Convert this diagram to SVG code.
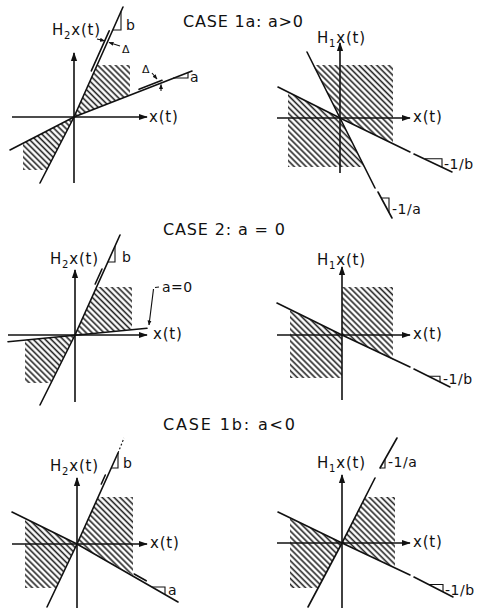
<svg xmlns="http://www.w3.org/2000/svg" width="482" height="608" viewBox="0 0 482 608">
<style>
.ln{stroke:#111;stroke-width:1.6;fill:none;stroke-linecap:round}
.th{stroke:#111;stroke-width:1.1;fill:none}
.ax{stroke:#111;stroke-width:1.6;fill:none;marker-end:url(#arr)}
.ht{fill:url(#hatch);stroke:none}
text{font-family:"DejaVu Sans","Liberation Sans",sans-serif;fill:#111}
.lb{font-size:15px;letter-spacing:0.8px}
.sm{font-size:14px;letter-spacing:0.5px}
.ti{font-size:16px}
.sub{font-size:10px}
</style>
<defs>
<pattern id="hatch" width="4.2" height="4.2" patternUnits="userSpaceOnUse" patternTransform="rotate(-45)">
<line x1="2" y1="-1" x2="2" y2="6" stroke="#222" stroke-width="1.6"/>
</pattern>
<marker id="arr" viewBox="0 0 10 10" refX="9" refY="5" markerWidth="9" markerHeight="9" markerUnits="userSpaceOnUse" orient="auto">
<path d="M0,1.5 L10,5 L0,8.5 z" fill="#111"/>
</marker>
<marker id="sarr" viewBox="0 0 10 10" refX="9" refY="5" markerWidth="5" markerHeight="5" markerUnits="userSpaceOnUse" orient="auto">
<path d="M0,1 L10,5 L0,9 z" fill="#111"/>
</marker>
</defs>

<g id="titles">
<text class="ti" x="183" y="27" textLength="120" lengthAdjust="spacing">CASE 1a: a&gt;0</text>
<text class="ti" x="163" y="235" textLength="122" lengthAdjust="spacing">CASE 2: a = 0</text>
<text class="ti" x="163" y="430" textLength="132" lengthAdjust="spacing">CASE 1b: a&lt;0</text>
</g>

<!-- Panel 1: CASE 1a, H2 -->
<g id="p1">
<polygon class="ht" points="97,65 130,65 130,95 74,117"/>
<polygon class="ht" points="23,143 74,117 47,170 23,170"/>
<line class="ax" x1="12" y1="117" x2="147" y2="117"/>
<line class="ax" x1="74" y1="183" x2="74" y2="53"/>
<polyline class="ln" points="40,183 74,117 123,7"/>
<polyline class="ln" points="10,150 74,117 192,71"/>
<line class="ln" x1="91.3" y1="70.8" x2="109.2" y2="30.8"/>
<line class="ln" x1="139" y1="89.3" x2="162" y2="80.3"/>
<polyline class="th" points="112.8,30 121,30 121,11.5"/>
<polyline class="th" points="173,78 188,78 188,72.1"/>
<line class="th" x1="97" y1="39" x2="104.5" y2="40.8" marker-end="url(#sarr)"/>
<line class="th" x1="120" y1="46" x2="109" y2="42.5" marker-end="url(#sarr)"/>
<line class="th" x1="152" y1="73" x2="157" y2="79" marker-end="url(#sarr)"/>
<line class="th" x1="161" y1="91" x2="161" y2="84.5" marker-end="url(#sarr)"/>
<text class="lb" x="52" y="35">H<tspan class="sub" dy="4">2</tspan><tspan dy="-4">x(t)</tspan></text>
<text class="lb" x="149" y="122">x(t)</text>
<text class="sm" x="126" y="30">b</text>
<text class="sm" x="190" y="82">a</text>
<text style="font-size:11px" x="122" y="53">Δ</text>
<text style="font-size:11px" x="142" y="73">Δ</text>
</g>

<!-- Panel 2: CASE 1a, H1 -->
<g id="p2">
<polygon class="ht" points="313,65 393,65 393,143.8 340,118"/>
<polygon class="ht" points="288,92 340,118 364.5,167 288,167"/>
<line class="ax" x1="277" y1="118" x2="410" y2="118"/>
<line class="ax" x1="340" y1="173" x2="340" y2="43"/>
<polyline class="ln" points="307,52 340,118 375,188"/>
<line class="ln" x1="378" y1="192" x2="392" y2="218"/>
<polyline class="ln" points="278,87 340,118 410,152"/>
<line class="ln" x1="414" y1="154" x2="452" y2="172"/>
<polyline class="th" points="425,158.8 442,158.8 442,167"/>
<polyline class="th" points="381.2,198 389,198 389,212.4"/>
<text class="lb" x="317" y="43">H<tspan class="sub" dy="4">1</tspan><tspan dy="-4">x(t)</tspan></text>
<text class="lb" x="413" y="122">x(t)</text>
<text class="sm" x="444" y="169">-1/b</text>
<text class="sm" x="392" y="214">-1/a</text>
</g>

<!-- Panel 3: CASE 2, H2 -->
<g id="p3">
<polygon class="ht" points="96.6,287 132,287 132,329.5 75,335"/>
<polygon class="ht" points="25,339.8 75,335 51,383 25,383"/>
<line class="ax" x1="8" y1="335" x2="147" y2="335"/>
<line class="ax" x1="75" y1="402" x2="75" y2="270"/>
<polyline class="ln" points="40,405 75,335 120,235"/>
<line class="ln" x1="8" y1="341.7" x2="147" y2="328.3"/>
<line class="ln" x1="95.2" y1="284" x2="102" y2="269"/>
<polyline class="th" points="107.9,262 115,262 115,246"/>
<line class="th" x1="155" y1="287.5" x2="159" y2="287"/>
<line class="th" x1="153.5" y1="289" x2="149" y2="325" marker-end="url(#sarr)"/>
<text class="lb" x="50" y="264">H<tspan class="sub" dy="4">2</tspan><tspan dy="-4">x(t)</tspan></text>
<text class="lb" x="153" y="339">x(t)</text>
<text class="sm" x="122" y="262">b</text>
<text class="sm" x="162" y="292">a=0</text>
</g>

<!-- Panel 4: CASE 2, H1 -->
<g id="p4">
<polygon class="ht" points="342,287 393,287 393,359.5 342,335"/>
<polygon class="ht" points="290,310 342,335 342,378 290,378"/>
<line class="ax" x1="277" y1="335" x2="410" y2="335"/>
<line class="ax" x1="342" y1="400" x2="342" y2="267"/>
<polyline class="ln" points="277,303 342,335 410,367"/>
<line class="ln" x1="414" y1="369" x2="450" y2="387"/>
<polyline class="th" points="428,376.3 440,376.3 440,382.2"/>
<text class="lb" x="317" y="265">H<tspan class="sub" dy="4">1</tspan><tspan dy="-4">x(t)</tspan></text>
<text class="lb" x="413" y="339">x(t)</text>
<text class="sm" x="443" y="384">-1/b</text>
</g>

<!-- Panel 5: CASE 1b, H2 -->
<g id="p5">
<polygon class="ht" points="98,497 133,497 133,575 77,544"/>
<polygon class="ht" points="25,518.5 77,544 56,588 25,588"/>
<line class="ax" x1="12" y1="544" x2="147" y2="544"/>
<line class="ax" x1="77" y1="608" x2="77" y2="478"/>
<polyline class="ln" points="47,607 77,544 118,453"/>
<line class="th" x1="118" y1="453" x2="124" y2="438" stroke-dasharray="2 2"/>
<polyline class="ln" points="12,512 77,544 178,602"/>
<line class="ln" x1="101.3" y1="484" x2="105.3" y2="475"/>
<line class="ln" x1="134.2" y1="574" x2="146.2" y2="580.8"/>
<polyline class="th" points="111.2,468 118,468 118,453"/>
<polyline class="th" points="152,587 165,587 165,594.5"/>
<text class="lb" x="50" y="471">H<tspan class="sub" dy="4">2</tspan><tspan dy="-4">x(t)</tspan></text>
<text class="lb" x="150" y="548">x(t)</text>
<text class="sm" x="123" y="468">b</text>
<text class="sm" x="168" y="595">a</text>
</g>

<!-- Panel 6: CASE 1b, H1 -->
<g id="p6">
<polygon class="ht" points="365.5,497 395,497 395,568 342,543"/>
<polygon class="ht" points="290,518 342,543 318,588 290,588"/>
<line class="ax" x1="277" y1="543" x2="410" y2="543"/>
<line class="ax" x1="342" y1="608" x2="342" y2="475"/>
<polyline class="ln" points="308,607 342,543 375,478"/>
<line class="ln" x1="380" y1="468" x2="397" y2="438"/>
<polyline class="ln" points="278,512 342,543 410,575"/>
<line class="ln" x1="414" y1="577" x2="453" y2="597"/>
<polyline class="th" points="380,468 385,468 385,459.2"/>
<polyline class="th" points="428,584.5 443,584.5 443,592"/>
<text class="lb" x="317" y="468">H<tspan class="sub" dy="4">1</tspan><tspan dy="-4">x(t)</tspan></text>
<text class="lb" x="413" y="547">x(t)</text>
<text class="sm" x="388" y="467">-1/a</text>
<text class="sm" x="445" y="595">-1/b</text>
</g>
</svg>
